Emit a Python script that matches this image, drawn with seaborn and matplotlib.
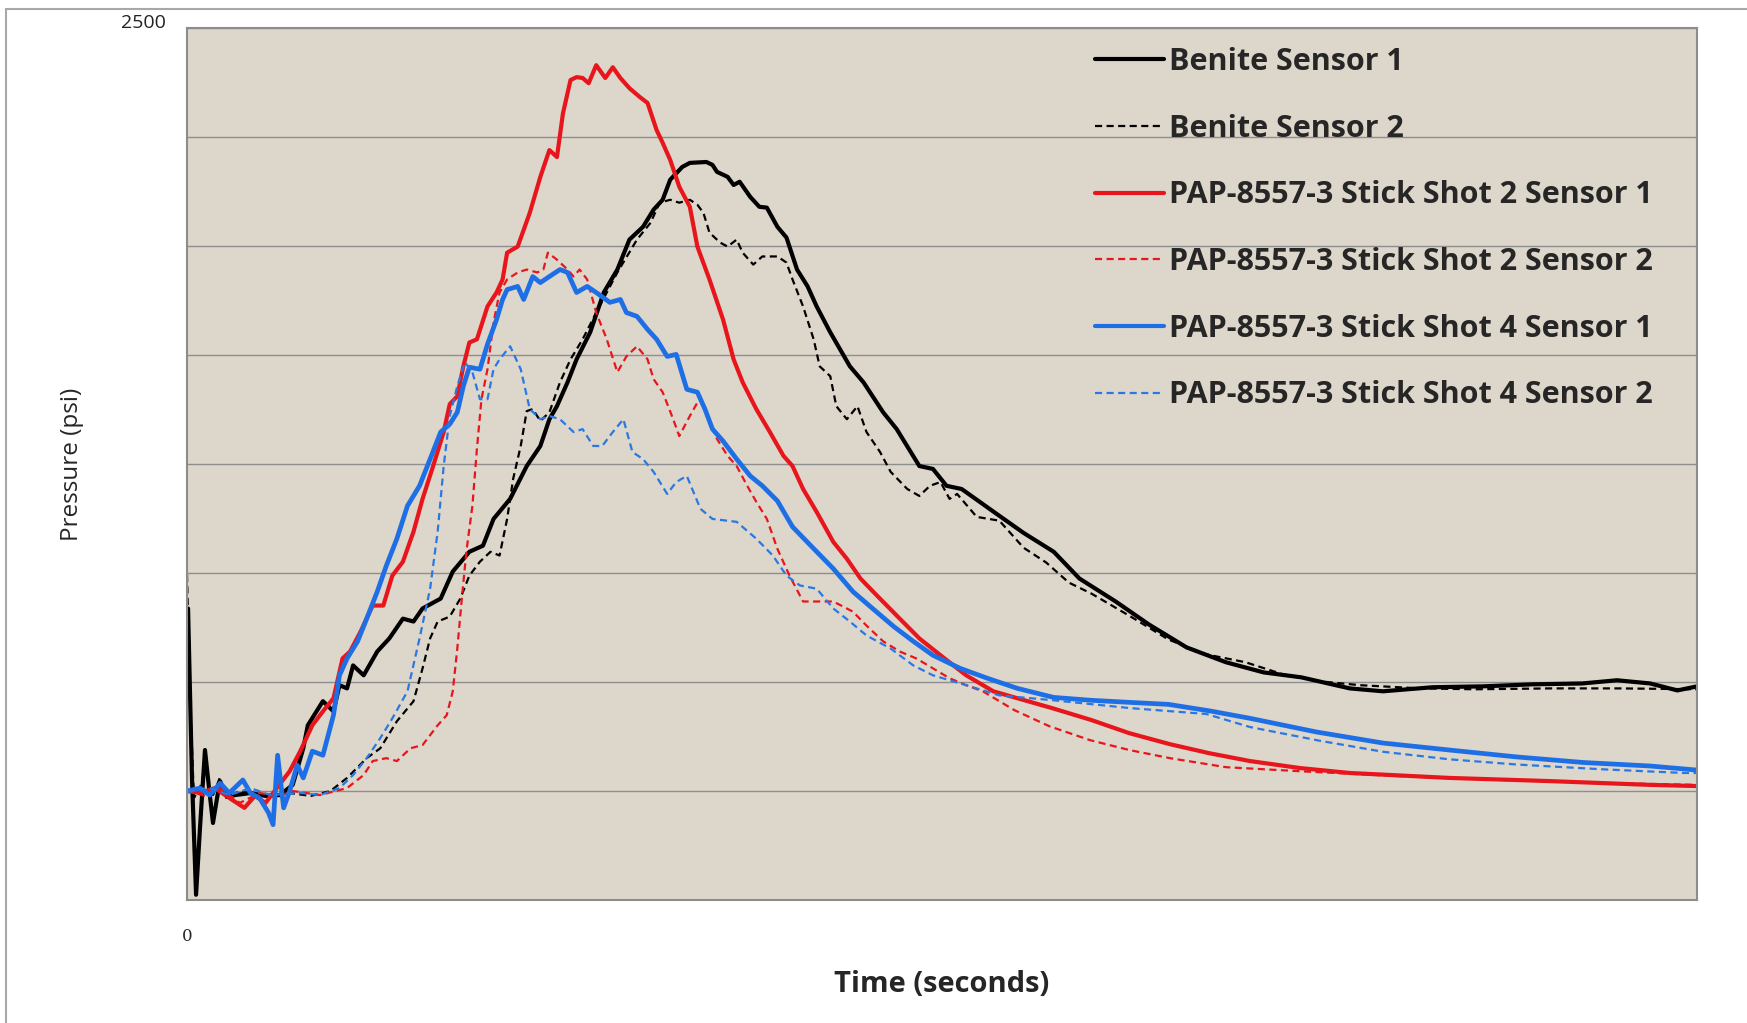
import numpy as np
import pandas as pd
import matplotlib
matplotlib.use("Agg")
import matplotlib.pyplot as plt
import seaborn as sns
from matplotlib.lines import Line2D
from matplotlib.patches import Rectangle

# ---------------- data (time in % of record, pressure in psi) ----------------
labels = ["Benite Sensor 1", "Benite Sensor 2",
          "PAP-8557-3 Stick Shot 2 Sensor 1", "PAP-8557-3 Stick Shot 2 Sensor 2",
          "PAP-8557-3 Stick Shot 4 Sensor 1", "PAP-8557-3 Stick Shot 4 Sensor 2"]

b1_t = [0.07, 0.33, 0.6, 0.86, 1.19, 1.46, 1.72, 1.99, 2.19, 2.52, 3.18, 4.2, 5.2, 6.15, 7.0, 7.7, 8.0, 9.0, 9.7,
        10.1, 10.6, 11.0, 11.7, 12.6, 13.4, 14.3, 15.0, 15.6, 16.8, 17.6, 18.7, 19.6, 20.3, 21.4, 22.5, 23.4, 24.0,
        24.5, 25.2, 25.8, 26.7, 27.6, 28.5, 29.3, 30.2, 30.9, 31.5, 32.0, 32.8, 33.3, 34.4, 34.8, 35.1, 35.8, 36.2,
        36.6, 37.3, 37.9, 38.4, 39.1, 39.7, 40.4, 41.1, 41.7, 42.6, 43.9, 44.8, 46.1, 47.0, 48.5, 49.4, 50.3, 51.3,
        53.6, 55.4, 57.4, 59.1, 61.5, 63.7, 66.2, 68.8, 71.3, 73.8, 77.0, 79.2, 82.5, 85.8, 89.1, 92.4, 94.7, 96.9,
        98.7, 100.0]
b1_p = [503, -80, -482, -252, 16, -115, -235, -149, -91, -132, -139, -132, -142, -139, -104, 22, 101, 184, 149,
        239, 228, 307, 273, 355, 400, 468, 458, 503, 537, 630, 698, 719, 811, 880, 993, 1062, 1154,
        1199, 1281, 1360, 1453, 1590, 1669, 1772, 1816, 1875, 1909, 1978, 2022, 2036, 2039, 2029, 2005, 1988, 1960,
        1971, 1919, 1885, 1882, 1816, 1779, 1669, 1611, 1542, 1453, 1336, 1281, 1178, 1120, 993, 983, 925, 914,
        829, 763, 698, 606, 527, 448, 369, 318, 283, 266, 228, 218, 232, 235, 242, 245, 256, 245,
        221, 235]

b2_t = [0.0, 0.2, 0.46, 0.86, 1.2, 1.65, 2.17, 2.6, 3.5, 4.8, 6.8, 8.2, 9.5, 10.6, 11.9, 12.8, 13.9, 15.0, 15.6,
        16.1, 16.6, 17.4, 18.1, 18.7, 19.4, 20.1, 20.7, 21.2, 21.6, 22.1, 22.5, 22.9, 23.4, 24.0, 24.7, 25.4, 26.2,
        27.1, 28.5, 29.8, 30.7, 31.3, 32.0, 32.6, 33.3, 33.8, 34.2, 34.6, 35.3, 35.8, 36.4, 36.8, 37.5, 38.1, 39.1,
        39.7, 40.1, 40.8, 41.5, 41.9, 42.6, 43.0, 43.7, 44.4, 45.0, 45.9, 46.6, 47.7, 48.5, 49.2, 49.9, 50.5, 51.0,
        52.3, 53.8, 55.4, 56.9, 58.4, 59.9, 62.5, 65.0, 67.5, 70.1, 72.6, 75.1, 77.7, 81.7, 85.3, 90.3, 94.9, 100.0]
b2_p = [619, 194, -149, -115, -46, -149, -80, -149, -125, -142, -132, -142, -125, -80, -12, 22, 115, 184, 297,
        400, 458, 475, 537, 616, 664, 698, 685, 811, 949, 1062, 1182, 1189, 1148, 1178, 1281, 1360, 1429,
        1521, 1659, 1772, 1830, 1899, 1909, 1899, 1909, 1892, 1864, 1796, 1762, 1748, 1772, 1727, 1686, 1714, 1714,
        1693, 1635, 1542, 1429, 1336, 1302, 1199, 1154, 1199, 1110, 1041, 973, 914, 890, 925, 938, 880, 897,
        818, 805, 712, 661, 592, 554, 475, 396, 345, 318, 276, 252, 239, 228, 225, 228, 228, 225]

r1_t = [0.0, 0.86, 1.85, 2.8, 3.8, 4.5, 5.2, 5.8, 6.8, 7.5, 8.3, 9.0, 9.7, 10.3, 10.8, 11.5, 12.3, 13.0, 13.6,
        14.3, 15.0, 15.6, 16.3, 17.0, 17.4, 17.9, 18.3, 18.7, 19.2, 19.9, 20.5, 20.9, 21.2, 21.9, 22.7, 23.4, 24.0,
        24.5, 24.9, 25.4, 25.8, 26.2, 26.6, 27.1, 27.7, 28.2, 28.7, 29.3, 30.0, 30.5, 31.1, 31.5, 32.0, 32.6, 33.3,
        33.8, 34.6, 35.5, 36.2, 36.8, 37.7, 38.6, 39.5, 40.1, 40.8, 41.7, 42.8, 43.7, 44.6, 45.7, 47.2, 48.5, 49.9,
        51.6, 53.4, 55.0, 57.3, 59.9, 62.4, 65.1, 67.7, 70.4, 73.7, 77.0, 83.6, 90.3, 96.9, 100.0]
r1_p = [-125, -132, -115, -149, -183, -142, -166, -125, -57, 12, 101, 149, 194, 331, 355, 424, 513, 513, 616,
        664, 767, 880, 993, 1110, 1206, 1233, 1336, 1418, 1429, 1542, 1590, 1635, 1727, 1748, 1864, 1988, 2080,
        2056, 2207, 2321, 2331, 2328, 2310, 2372, 2328, 2365, 2328, 2293, 2262, 2242, 2149, 2105, 2046, 1954, 1885,
        1748, 1635, 1497, 1360, 1281, 1189, 1110, 1028, 993, 914, 835, 732, 674, 606, 547, 468, 400, 342,
        273, 218, 194, 160, 119, 74, 36, 5, -22, -46, -63, -80, -91, -104, -108]

r2_t = [0.0, 1.2, 2.2, 3.5, 4.8, 6.2, 7.0, 8.8, 10.6, 11.7, 12.3, 13.2, 13.9, 14.8, 15.6, 16.6, 17.2, 17.6, 17.9,
        18.2, 18.5, 18.9, 19.2, 19.5, 19.9, 20.3, 20.7, 21.2, 21.9, 22.5, 23.2, 23.6, 23.9, 24.5, 25.2, 25.6, 26.0,
        26.5, 27.1, 27.8, 28.5, 29.1, 29.8, 30.5, 30.9, 31.5, 32.2, 32.6, 33.3, 34.0, 34.6, 35.1, 35.8, 36.4, 37.1,
        37.7, 38.4, 39.1, 39.9, 40.8, 41.7, 42.8, 44.1, 45.0, 46.1, 47.2, 48.3, 49.4, 50.5, 51.6, 52.7, 54.8, 57.1,
        59.8, 62.4, 65.1, 68.8, 73.7, 80.3, 87.0, 93.6, 100.0]
r2_p = [-125, -142, -115, -166, -132, -142, -125, -139, -115, -70, -22, -12, -22, 22, 33, 101, 136, 218, 365,
        537, 698, 856, 1052, 1223, 1326, 1487, 1590, 1635, 1659, 1669, 1659, 1669, 1727, 1703, 1669, 1645, 1669,
        1635, 1521, 1429, 1316, 1370, 1405, 1360, 1292, 1247, 1154, 1096, 1165, 1230, 1154, 1086, 1028, 993, 925,
        870, 811, 708, 616, 527, 527, 527, 492, 444, 390, 355, 331, 297, 263, 239, 218, 153, 98,
        50, 16, -12, -43, -57, -74, -87, -97, -104]

u1_t = [0.0, 0.86, 1.5, 2.2, 2.8, 3.7, 4.2, 4.8, 5.4, 5.7, 6.0, 6.4, 6.8, 7.3, 7.7, 8.3, 9.0, 9.7, 10.1, 10.6,
        11.3, 11.9, 12.6, 13.2, 13.9, 14.6, 15.4, 16.1, 16.8, 17.4, 17.9, 18.3, 18.7, 19.4, 19.9, 20.5, 20.9, 21.2,
        21.9, 22.3, 22.9, 23.4, 24.0, 24.7, 25.2, 25.8, 26.5, 27.1, 28.0, 28.7, 29.1, 29.8, 30.5, 31.1, 31.8, 32.4,
        33.1, 33.8, 34.3, 34.8, 35.5, 36.4, 37.3, 38.1, 39.1, 40.1, 41.5, 42.8, 44.1, 45.4, 46.8, 48.1, 49.4, 51.2,
        53.0, 55.0, 57.4, 59.9, 62.4, 65.0, 67.8, 70.4, 74.8, 79.2, 83.6, 88.1, 92.5, 96.9, 100.0]
u1_p = [-125, -115, -139, -98, -132, -87, -132, -149, -200, -241, -2, -183, -125, -36, -80, 12, -2, 136, 273, 331,
        390, 468, 561, 650, 743, 856, 925, 1017, 1110, 1137, 1178, 1268, 1333, 1326, 1412, 1497, 1566, 1600,
        1611, 1566, 1645, 1624, 1645, 1669, 1659, 1590, 1611, 1590, 1556, 1566, 1521, 1508, 1463, 1429, 1370, 1377,
        1257, 1247, 1189, 1120, 1079, 1017, 959, 925, 873, 784, 709, 640, 561, 503, 441, 390, 342, 297,
        263, 228, 197, 187, 180, 173, 150, 125, 78, 40, 16, -8, -27, -39, -53]

u2_t = [0.0, 1.5, 2.8, 4.2, 5.5, 7.5, 8.8, 10.1, 11.0, 11.9, 12.8, 13.6, 14.6, 15.4, 16.1, 16.6, 17.0, 17.4, 17.9,
        18.4, 18.9, 19.4, 19.9, 20.3, 20.7, 21.4, 22.1, 22.7, 23.4, 24.0, 24.7, 25.6, 26.2, 26.9, 27.5, 28.2, 28.9,
        29.5, 30.2, 30.9, 31.8, 32.4, 33.1, 34.0, 34.8, 36.4, 37.7, 38.8, 39.7, 40.6, 41.7, 42.8, 43.9, 45.0, 46.6,
        48.1, 49.4, 51.6, 53.8, 57.4, 62.5, 67.5, 70.4, 75.0, 79.2, 83.6, 88.1, 93.6, 99.1, 100.0]
u2_p = [-125, -115, -139, -115, -139, -132, -139, -115, -70, -12, 57, 125, 218, 400, 571, 767, 993, 1165, 1268,
        1350, 1316, 1223, 1223, 1326, 1360, 1405, 1326, 1189, 1154, 1165, 1154, 1110, 1120, 1062, 1062, 1110, 1154,
        1041, 1017, 973, 897, 938, 959, 846, 811, 801, 743, 685, 616, 582, 571, 503, 458, 410, 365,
        307, 273, 239, 204, 187, 160, 140, 95, 48, 10, -16, -34, -50, -63, -63]

series_t = [b1_t, b2_t, r1_t, r2_t, u1_t, u2_t]
series_p = [b1_p, b2_p, r1_p, r2_p, u1_p, u2_p]

# ---------------- styling ----------------
colors = ["#000000", "#000000", "#E8161C", "#E8161C", "#1E6FE6", "#2A78E4"]
widths = [3.0, 1.6, 3.0, 1.6, 3.4, 1.6]
dashed = [False, True, False, True, False, True]

sns.set_theme(style="white")
plt.rcParams["font.family"] = ["Open Sans", "DejaVu Sans"]

W, H = 1747, 1023
fig = plt.figure(figsize=(W / 100, H / 100), dpi=100)
fig.patch.set_facecolor("white")
fig.add_artist(Rectangle((6 / W, -0.01), 1.02, 1 - 9 / H + 0.01, transform=fig.transFigure,
                         fill=False, edgecolor="#A8A8A8", linewidth=1.5))

ax = fig.add_axes([187 / W, 1 - 900 / H, (1697 - 187) / W, (900 - 28) / H])
ax.set_facecolor("#DDD6CA")

for t, p, lab, c, lw, d in zip(series_t, series_p, labels, colors, widths, dashed):
    df = pd.DataFrame({"t": t, "p": p})
    line_kw = dict(dashes=(3.2, 2.0)) if d else {}
    sns.lineplot(data=df, x="t", y="p", ax=ax, color=c, linewidth=lw, estimator=None,
                 sort=False, label=lab, legend=False, **line_kw)

ax.set_xlim(0, 100)
ax.set_ylim(-500, 2500)
yt = np.arange(-500, 2501, 375)
ax.set_yticks(yt)
ax.set_yticklabels([""] * (len(yt) - 1) + ["2500"], fontsize=14, color="#222222")
for lbl in ax.get_yticklabels():
    lbl.set_va("baseline")
ax.tick_params(axis="y", length=0, pad=15)
ax.set_xticks([0])
ax.set_xticklabels(["0"], family="DejaVu Serif", fontsize=12)
ax.tick_params(axis="x", length=0, pad=20)
ax.grid(axis="y", color="#8E8E8E", linewidth=1.0)
ax.grid(axis="x", visible=False)
for s in ax.spines.values():
    s.set_color("#8C8C8C")
    s.set_linewidth(1.5)

ax.set_xlabel("Time (seconds)", fontsize=21, fontweight="bold", va="center")
ax.xaxis.set_label_coords(0.5, (900 - 985) / 872)
ax.set_ylabel("Pressure (psi)", fontsize=17.5, va="center")
ax.yaxis.set_label_coords((72 - 187) / 1510, 0.5)

handles = []
for lab, c, lw, d in zip(labels, colors, widths, dashed):
    h = Line2D([0], [0], color=c, linewidth=min(lw, 3.0), linestyle=(0, (3.2, 2.0)) if d else "-")
    handles.append(h)
leg = ax.legend(handles, labels, loc="upper left", bbox_to_anchor=(1095 / W, 1 - 47 / H),
                bbox_transform=fig.transFigure, frameon=False, borderpad=0, borderaxespad=0,
                handlelength=2.25, handletextpad=0.17, labelspacing=1.2,
                prop=dict(family="Open Sans", weight="bold", size=22))

fig.savefig("out.png", dpi=100, facecolor="white")
